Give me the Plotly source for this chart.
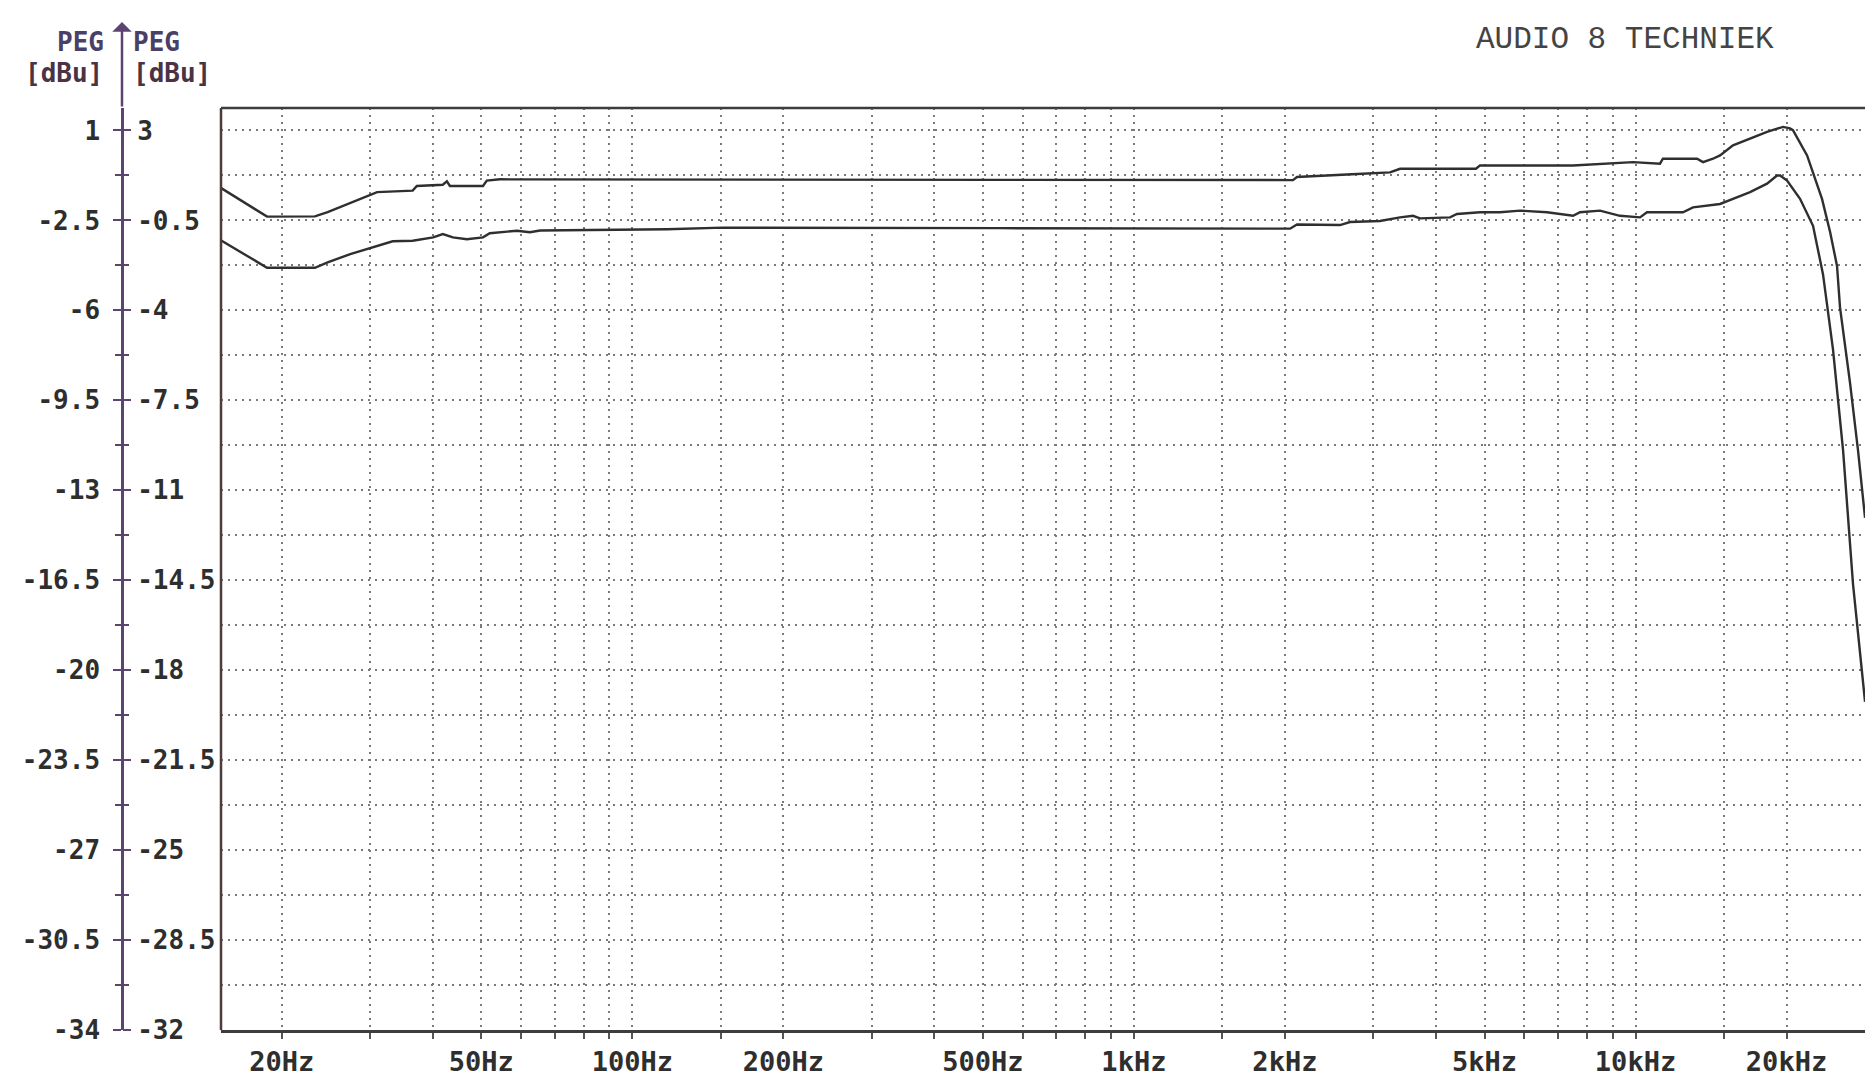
import math
import plotly.graph_objects as go

# ---------------- data ----------------
# Upper trace, read on the left PEG axis [dBu]
freq_left = [15, 18.3, 18.7, 23.3, 24.7, 31.0, 36.5, 37.2, 41.9, 42.7,
             43.3, 50.4, 51.3, 54.5, 136.5, 541, 2076, 2114, 2721, 3240,
             3393, 4808, 4898, 7507, 9886, 11190, 11340, 13264, 13634, 14272,
             14740, 15645, 18290, 19680, 20324, 20600, 21980, 22590, 23540, 24430,
             25220, 25570, 26770, 27770, 28680]
level_left = [-1.19, -2.25, -2.35, -2.34, -2.18, -1.40, -1.34, -1.16, -1.11, -0.98,
              -1.16, -1.16, -0.95, -0.90, -0.90, -0.92, -0.93, -0.81, -0.70, -0.63,
              -0.49, -0.49, -0.36, -0.36, -0.23, -0.29, -0.10, -0.10, -0.23, -0.10,
              0.03, 0.42, 0.95, 1.14, 1.08, 1.01, 0.03, -0.62, -1.66, -2.95,
              -4.27, -5.89, -8.82, -11.45, -14.07]

# Lower trace, read on the right PEG axis [dBu]
freq_right = [15, 18.3, 18.7, 23.3, 24.7, 27.4, 31.0, 33.3, 36.5, 40.1,
              41.9, 43.9, 46.8, 50.4, 52.0, 58.9, 62.5, 65.5, 117.3, 151.6,
              541, 2048, 2114, 2576, 2697, 3095, 3393, 3601, 3719, 4268,
              4407, 4898, 5369, 5886, 6662, 7507, 7752, 8496, 9313, 10210,
              10542, 12435, 13020, 14740, 15645, 16920, 18290, 19150, 19420, 20050,
              21280, 22590, 23650, 24760, 25930, 27140, 28680]
level_right = [-1.23, -2.21, -2.34, -2.34, -2.13, -1.81, -1.49, -1.31, -1.29, -1.16,
               -1.03, -1.16, -1.23, -1.16, -1.00, -0.90, -0.96, -0.89, -0.84, -0.78,
               -0.80, -0.82, -0.66, -0.68, -0.56, -0.52, -0.38, -0.32, -0.42, -0.38,
               -0.25, -0.18, -0.18, -0.12, -0.18, -0.32, -0.18, -0.12, -0.32, -0.38,
               -0.18, -0.18, 0.01, 0.14, 0.34, 0.60, 0.93, 1.25, 1.25, 1.05,
               0.34, -0.71, -2.60, -5.53, -9.45, -14.65, -19.23]

left_ticks = [1, -2.5, -6, -9.5, -13, -16.5, -20, -23.5, -27, -30.5, -34]
left_labels = ["1", "-2.5", "-6", "-9.5", "-13", "-16.5", "-20", "-23.5", "-27", "-30.5", "-34"]
right_ticks = [3, -0.5, -4, -7.5, -11, -14.5, -18, -21.5, -25, -28.5, -32]
right_labels = ["3", "-0.5", "-4", "-7.5", "-11", "-14.5", "-18", "-21.5", "-25", "-28.5", "-32"]

freq_label_vals = [20, 50, 100, 200, 500, 1000, 2000, 5000, 10000, 20000]
freq_labels = ["20Hz", "50Hz", "100Hz", "200Hz", "500Hz", "1kHz", "2kHz", "5kHz", "10kHz", "20kHz"]
grid_mult = [1, 1.5, 2, 3, 4, 5, 6, 7, 8, 9]
grid_decades = [10, 100, 1000, 10000]

# ---------------- styling / geometry ----------------
W, H = 1865, 1079
FONT = "DejaVu Sans Mono"
TXT = "#2e2e2e"
AXC = "#5a4470"
GRID = "#7a7a7a"
GDASH = "2px,5px"

x_left_px = 221
axis_px = 122
top_px, bot_px = 108, 1030
ydom = [(H - bot_px) / H, (H - top_px) / H]
xdom = [x_left_px / W, 1.0]
ax_pos = axis_px / W

grid_freqs = [m * d for d in grid_decades for m in grid_mult]
label_map = {round(v): t for v, t in zip(freq_label_vals, freq_labels)}
x_tickvals = grid_freqs
x_ticktext = [label_map.get(round(f), "") for f in grid_freqs]

left_minor = [(a + b) / 2 for a, b in zip(left_ticks, left_ticks[1:])]
right_minor = [(a + b) / 2 for a, b in zip(right_ticks, right_ticks[1:])]

fig = go.Figure()
fig.add_trace(go.Scatter(x=freq_left, y=level_left, mode="lines", yaxis="y",
                         line=dict(color="#2f2f2f", width=2.4), showlegend=False,
                         hoverinfo="skip"))
fig.add_trace(go.Scatter(x=freq_right, y=level_right, mode="lines", yaxis="y2",
                         line=dict(color="#2f2f2f", width=2.4), showlegend=False,
                         hoverinfo="skip"))

fig.update_layout(
    width=W, height=H,
    margin=dict(l=0, r=0, t=0, b=0, pad=0),
    paper_bgcolor="white", plot_bgcolor="white",
    xaxis=dict(
        type="log", domain=xdom, automargin=False,
        range=[math.log10(15.14), 4.4575],
        tickmode="array", tickvals=x_tickvals, ticktext=x_ticktext,
        ticks="outside", ticklen=6, tickwidth=1.5, tickcolor="#555",
        showgrid=True, gridcolor=GRID, gridwidth=1.5, griddash=GDASH,
        showline=True, linecolor="#3d3d3d", linewidth=2.5,
        zeroline=False,
        tickfont=dict(family=FONT, size=27, color=TXT, weight="bold"),
        ticklabelstandoff=0,
    ),
    yaxis=dict(
        anchor="free", position=ax_pos, side="left", domain=ydom, automargin=False,
        range=[-34, 1.875],
        tickmode="array", tickvals=left_ticks, ticktext=left_labels,
        ticks="outside", ticklen=8, tickwidth=2, tickcolor=AXC,
        showline=True, linecolor=AXC, linewidth=2.5,
        showgrid=True, gridcolor=GRID, gridwidth=1.5, griddash=GDASH,
        zeroline=False,
        minor=dict(tickmode="array", tickvals=left_minor, ticks="outside",
                   ticklen=6, tickwidth=2, tickcolor=AXC,
                   showgrid=True, gridcolor=GRID, gridwidth=1.5, griddash=GDASH),
        tickfont=dict(family=FONT, size=26, color=TXT, weight="bold"),
        ticklabelstandoff=8,
    ),
    yaxis2=dict(
        overlaying="y", anchor="free", position=ax_pos, side="right", automargin=False,
        range=[-32, 3.875],
        tickmode="array", tickvals=right_ticks, ticktext=right_labels,
        ticks="outside", ticklen=8, tickwidth=2, tickcolor=AXC,
        showline=False, showgrid=False, zeroline=False,
        minor=dict(tickmode="array", tickvals=right_minor, ticks="outside",
                   ticklen=6, tickwidth=2, tickcolor=AXC, showgrid=False),
        tickfont=dict(family=FONT, size=26, color=TXT, weight="bold"),
        ticklabelstandoff=1,
    ),
    shapes=[
        dict(type="line", xref="paper", yref="paper", x0=xdom[0], x1=xdom[0],
             y0=ydom[0], y1=ydom[1], line=dict(color="#4e3b3b", width=2.5)),
        dict(type="line", xref="paper", yref="paper", x0=xdom[0], x1=1.0,
             y0=ydom[1], y1=ydom[1], line=dict(color="#3d3d3d", width=2.5)),
    ],
    annotations=[
        dict(xref="paper", yref="paper", x=ax_pos, y=(H - 22) / H, text="",
             showarrow=True, ax=0, ay=top_px - 22, axref="pixel", ayref="pixel",
             arrowhead=1, arrowsize=1.3, arrowwidth=2.5, arrowcolor=AXC),
        dict(xref="paper", yref="paper", x=80 / W, y=(H - 42) / H, text="PEG",
             showarrow=False, xanchor="center", yanchor="middle",
             font=dict(family=FONT, size=26, color="#4a3f66", weight="bold")),
        dict(xref="paper", yref="paper", x=64 / W, y=(H - 73) / H, text="[dBu]",
             showarrow=False, xanchor="center", yanchor="middle",
             font=dict(family=FONT, size=26, color="#4a3344", weight="bold")),
        dict(xref="paper", yref="paper", x=131 / W, y=(H - 42) / H, text="PEG",
             showarrow=False, xanchor="left", yanchor="middle",
             font=dict(family=FONT, size=26, color="#4a3f66", weight="bold")),
        dict(xref="paper", yref="paper", x=131 / W, y=(H - 73) / H, text="[dBu]",
             showarrow=False, xanchor="left", yanchor="middle",
             font=dict(family=FONT, size=26, color="#4a3344", weight="bold")),
        dict(xref="paper", yref="paper", x=1474 / W, y=(H - 39) / H,
             text="AUDIO 8 TECHNIEK", showarrow=False, xanchor="left", yanchor="middle",
             font=dict(family="Liberation Mono", size=31, color="#444444")),
    ],
)

fig.write_html("out.html", config={"displayModeBar": False},
               post_script="document.body.style.margin='0';")
